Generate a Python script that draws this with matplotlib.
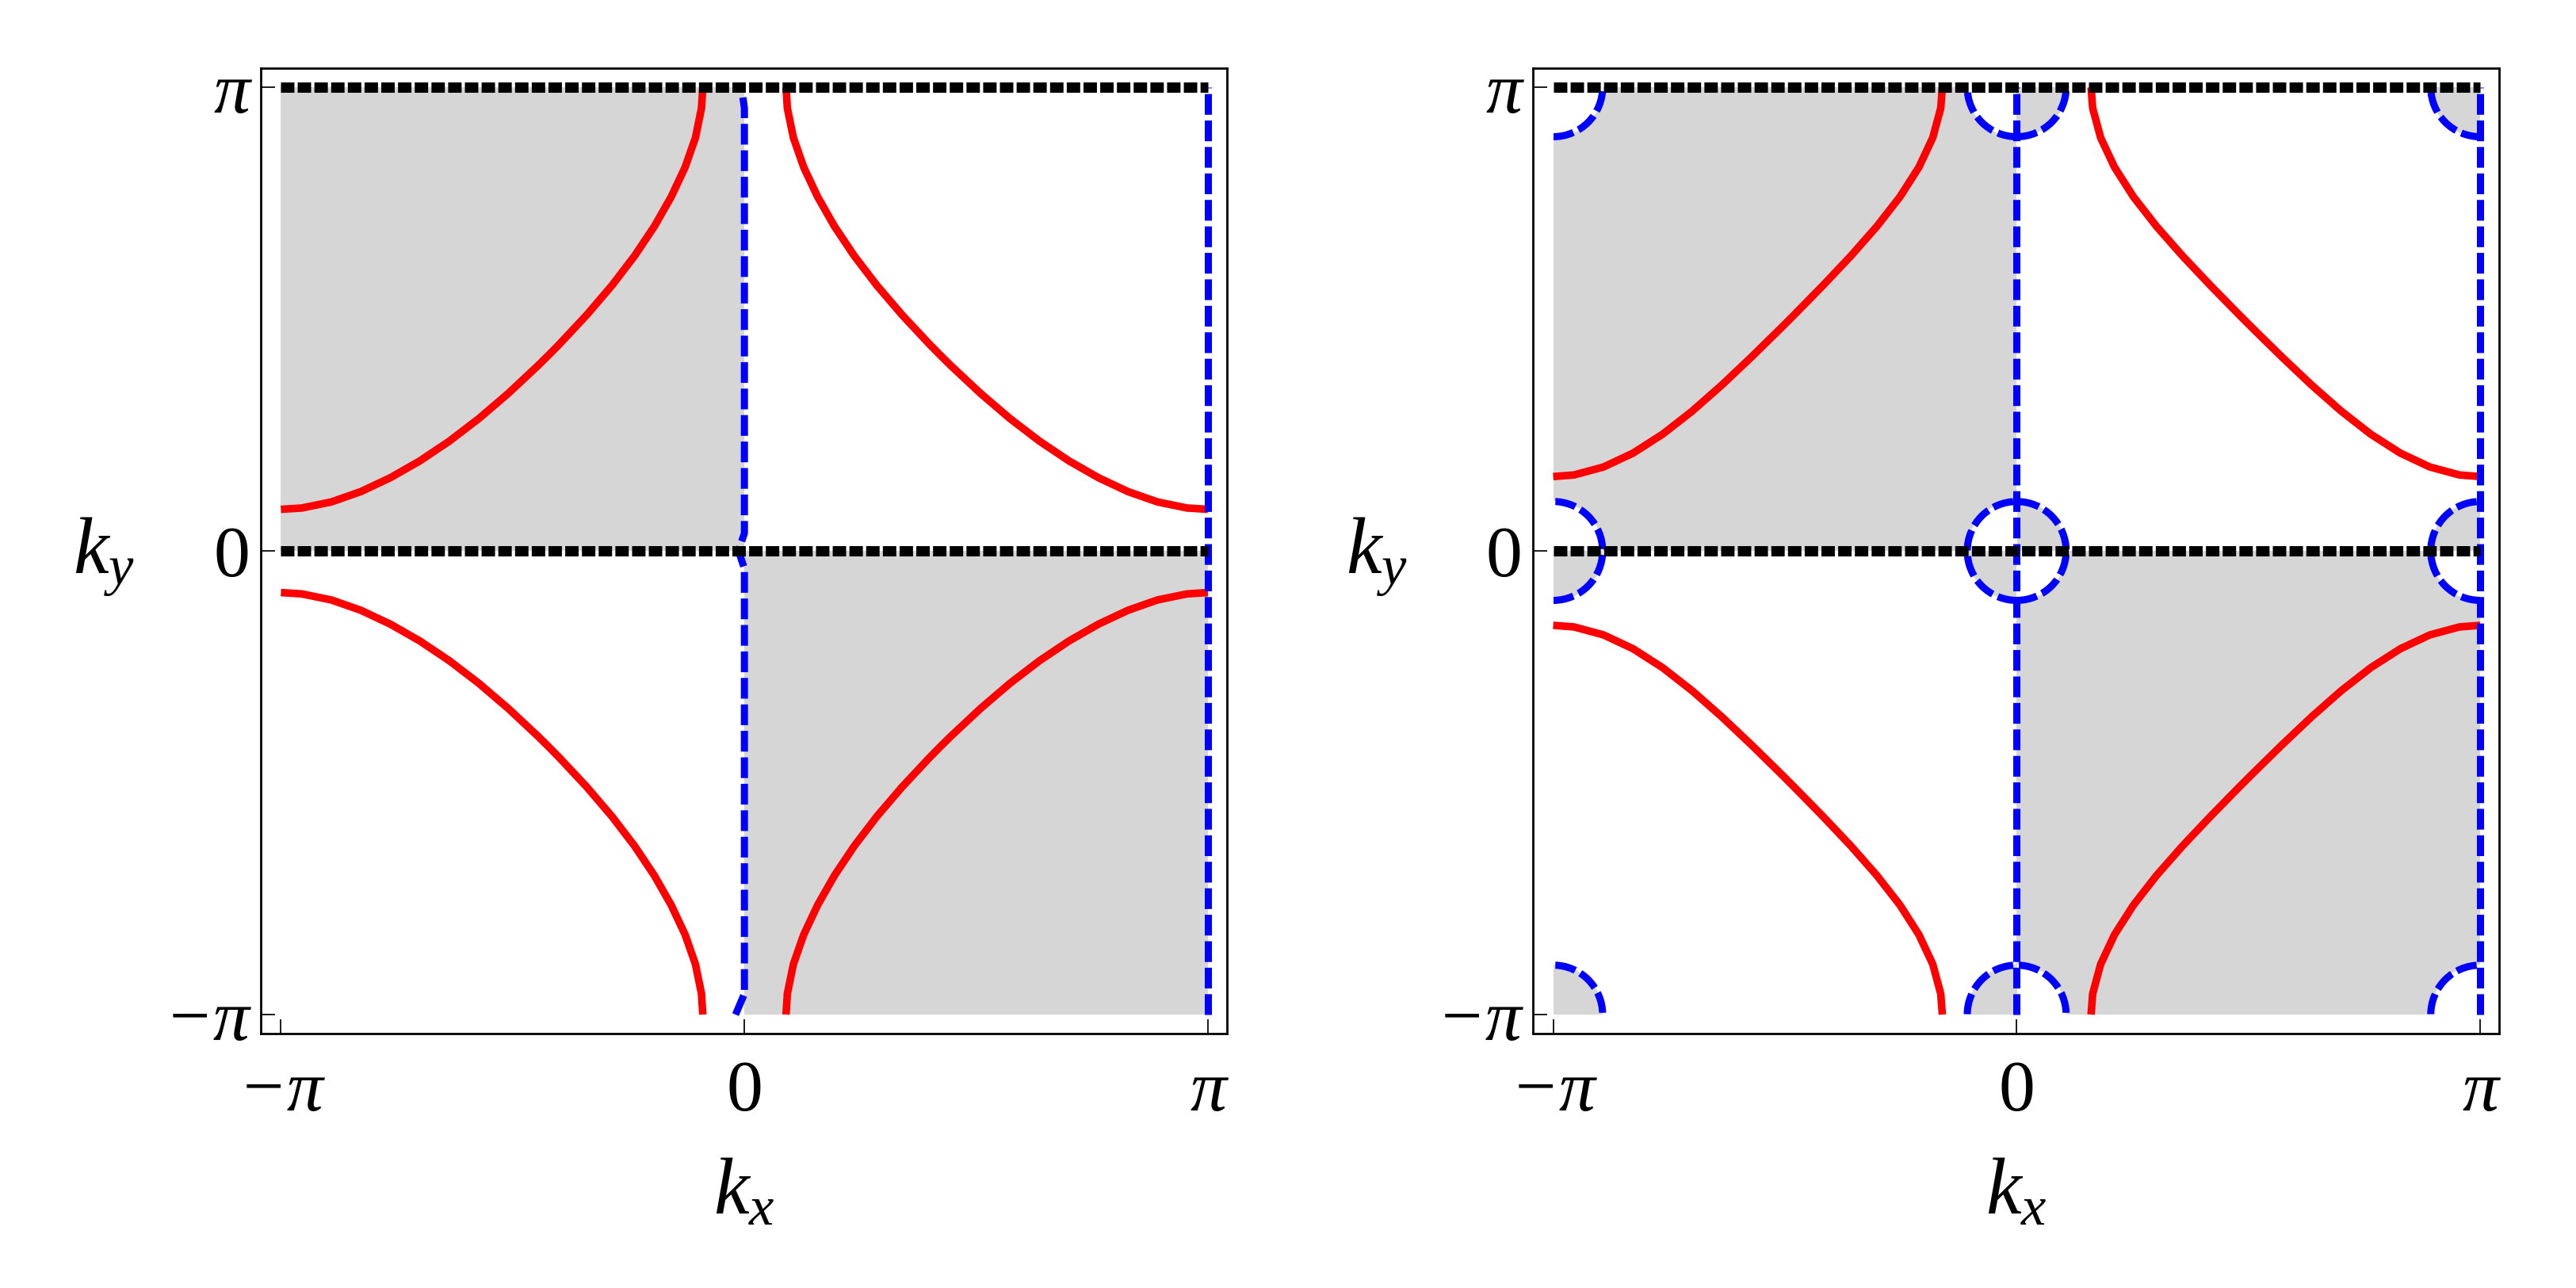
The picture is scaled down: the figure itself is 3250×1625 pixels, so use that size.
import numpy as np
import matplotlib
matplotlib.use("Agg")
import matplotlib.pyplot as plt
from matplotlib.patches import Rectangle, Wedge, Circle

plt.rcParams['mathtext.fontset'] = 'custom'
plt.rcParams['mathtext.rm'] = 'Liberation Serif'
plt.rcParams['mathtext.it'] = 'Liberation Serif:italic'
plt.rcParams['font.family'] = ['Liberation Serif', 'DejaVu Serif']

PI = np.pi

# ---------------- data ----------------
tick_vals = [-PI, 0.0, PI]
tick_labels = ['\u2212\u03c0', '0', '\u03c0']
tick_styles = ['italic', 'normal', 'italic']
x_label = r'$k_x$'
y_label = r'$k_y$'

# black dotted lines (ky values)
black_ky = [0.0, PI]

# ---- left panel: red curves (kx, ky) ----
L_tl_x = [-PI, -3.0, -2.8, -2.6, -2.4, -2.2, -2.0, -1.8, -1.6, -1.4, -1.327,
          -1.255, -1.068, -0.897, -0.744, -0.610, -0.496, -0.402, -0.332, -0.291, -0.282]
L_tl_y = [0.282, 0.291, 0.332, 0.402, 0.496, 0.610, 0.744, 0.897, 1.068, 1.255, 1.327,
          1.4, 1.6, 1.8, 2.0, 2.2, 2.4, 2.6, 2.8, 3.0, PI]
L_tr_x = [PI, 3.0, 2.8, 2.6, 2.4, 2.2, 2.0, 1.8, 1.6, 1.4, 1.327,
          1.255, 1.068, 0.897, 0.744, 0.610, 0.496, 0.402, 0.332, 0.291, 0.282]
L_tr_y = [0.282, 0.291, 0.332, 0.402, 0.496, 0.610, 0.744, 0.897, 1.068, 1.255, 1.327,
          1.4, 1.6, 1.8, 2.0, 2.2, 2.4, 2.6, 2.8, 3.0, PI]
L_bl_x = [-PI, -3.0, -2.8, -2.6, -2.4, -2.2, -2.0, -1.8, -1.6, -1.4, -1.327,
          -1.255, -1.068, -0.897, -0.744, -0.610, -0.496, -0.402, -0.332, -0.291, -0.282]
L_bl_y = [-0.282, -0.291, -0.332, -0.402, -0.496, -0.610, -0.744, -0.897, -1.068, -1.255, -1.327,
          -1.4, -1.6, -1.8, -2.0, -2.2, -2.4, -2.6, -2.8, -3.0, -PI]
L_br_x = [PI, 3.0, 2.8, 2.6, 2.4, 2.2, 2.0, 1.8, 1.6, 1.4, 1.327,
          1.255, 1.068, 0.897, 0.744, 0.610, 0.496, 0.402, 0.332, 0.291, 0.282]
L_br_y = [-0.282, -0.291, -0.332, -0.402, -0.496, -0.610, -0.744, -0.897, -1.068, -1.255, -1.327,
          -1.4, -1.6, -1.8, -2.0, -2.2, -2.4, -2.6, -2.8, -3.0, -PI]
# left panel: blue dashed lines
L_blue0_x = [-0.06, 0.0, 0.0, -0.04, 0.0, 0.0, -0.02]
L_blue0_y = [-PI, -3.0, -0.12, 0.0, 0.12, 3.0, PI]
L_bluepi_x = [PI, PI]
L_bluepi_y = [-PI, PI]

# ---- right panel: red curves (kx, ky) ----
R_tl_x = [-PI, -3.0, -2.8, -2.6, -2.4, -2.2, -2.0, -1.8, -1.6, -1.554,
          -1.508, -1.312, -1.123, -0.947, -0.791, -0.663, -0.569, -0.515, -0.504]
R_tl_y = [0.504, 0.515, 0.569, 0.663, 0.791, 0.947, 1.123, 1.312, 1.508, 1.554,
          1.6, 1.8, 2.0, 2.2, 2.4, 2.6, 2.8, 3.0, PI]
R_tr_x = [PI, 3.0, 2.8, 2.6, 2.4, 2.2, 2.0, 1.8, 1.6, 1.554,
          1.508, 1.312, 1.123, 0.947, 0.791, 0.663, 0.569, 0.515, 0.504]
R_tr_y = [0.504, 0.515, 0.569, 0.663, 0.791, 0.947, 1.123, 1.312, 1.508, 1.554,
          1.6, 1.8, 2.0, 2.2, 2.4, 2.6, 2.8, 3.0, PI]
R_bl_x = [-PI, -3.0, -2.8, -2.6, -2.4, -2.2, -2.0, -1.8, -1.6, -1.554,
          -1.508, -1.312, -1.123, -0.947, -0.791, -0.663, -0.569, -0.515, -0.504]
R_bl_y = [-0.504, -0.515, -0.569, -0.663, -0.791, -0.947, -1.123, -1.312, -1.508, -1.554,
          -1.6, -1.8, -2.0, -2.2, -2.4, -2.6, -2.8, -3.0, -PI]
R_br_x = [PI, 3.0, 2.8, 2.6, 2.4, 2.2, 2.0, 1.8, 1.6, 1.554,
          1.508, 1.312, 1.123, 0.947, 0.791, 0.663, 0.569, 0.515, 0.504]
R_br_y = [-0.504, -0.515, -0.569, -0.663, -0.791, -0.947, -1.123, -1.312, -1.508, -1.554,
          -1.6, -1.8, -2.0, -2.2, -2.4, -2.6, -2.8, -3.0, -PI]
# right panel: blue dashed lines and circles
R_blue0_x = [0.0, 0.0]
R_blue0_y = [-PI, PI]
R_bluepi_x = [PI, PI]
R_bluepi_y = [-PI, PI]
R_circle_cx = [-PI, 0.0, PI, -PI, 0.0, PI, -PI, 0.0, PI]
R_circle_cy = [-PI, -PI, -PI, 0.0, 0.0, 0.0, PI, PI, PI]
R_radius = 0.335

# ---------------- style ----------------
GRAY = '#d6d6d6'
RED = '#ff0000'
BLUE = '#0000ff'
RED_LW = 2.75
BLUE_LW = 2.6
BLACK_LW = 3.75
BLUE_DASH = (0, (2.9, 0.8))
BLACK_DASH = (0, (1.3, 0.32))

fig = plt.figure(figsize=(13, 6.5), dpi=250)
axL = fig.add_axes([0.1012, 0.1975, 0.3751, 0.7495])
axR = fig.add_axes([0.5951, 0.1975, 0.3751, 0.7495])


def shade(ax, cxs, cys, r):
    clip = Rectangle((-PI, -PI), 2 * PI, 2 * PI, transform=ax.transData)
    for (x0, y0) in [(-PI, 0.0), (0.0, -PI)]:
        ax.add_patch(Rectangle((x0, y0), PI, PI, facecolor=GRAY,
                               edgecolor='none', zorder=1))
    for cx, cy in zip(cxs, cys):
        for k in range(4):
            t1 = 90 * k
            ang = np.deg2rad(t1 + 45)
            px = cx + 0.5 * r * np.cos(ang)
            py = cy + 0.5 * r * np.sin(ang)
            outside_gray = px * py < 0
            col = 'white' if outside_gray else GRAY
            w = Wedge((cx, cy), r, t1, t1 + 90, facecolor=col,
                      edgecolor='none', zorder=1.1, antialiased=False)
            ax.add_patch(w)
            w.set_clip_path(clip)
        c = Circle((cx, cy), r, fill=False, edgecolor=BLUE, lw=BLUE_LW,
                   linestyle=BLUE_DASH, zorder=3)
        ax.add_patch(c)
        c.set_clip_path(clip)


def decorate(ax):
    ax.set_xlim(-PI - 0.137, PI + 0.129)
    ax.set_ylim(-PI - 0.129, PI + 0.129)
    ax.set_xticks(tick_vals)
    ax.set_xticklabels(tick_labels)
    ax.set_yticks(tick_vals)
    ax.set_yticklabels(tick_labels)
    ax.tick_params(direction='in', length=5.2, width=0.5, labelsize=26.4,
                   top=False, right=False, colors='black')
    ax.tick_params(axis='x', pad=9.6)
    ax.tick_params(axis='y', pad=4.0)
    for lab, st in zip(ax.get_xticklabels(), tick_styles):
        lab.set_fontstyle(st)
    for lab, st in zip(ax.get_yticklabels(), tick_styles):
        lab.set_fontstyle(st)
    for s in ax.spines.values():
        s.set_linewidth(0.8)
    ax.set_xlabel(x_label, fontsize=29)
    ax.xaxis.set_label_coords(0.5, -0.1675)
    ax.xaxis.label.set_va('center')
    ax.set_ylabel(y_label, fontsize=29, rotation=0)
    ax.yaxis.set_label_coords(-0.162, 0.494)
    ax.yaxis.label.set_va('center')
    ax.yaxis.label.set_ha('center')


def draw_panel(ax, reds, blues, cxs, cys, r):
    shade(ax, cxs, cys, r)
    for xs, ys in reds:
        ax.plot(xs, ys, color=RED, lw=RED_LW, zorder=2,
                solid_capstyle='butt', solid_joinstyle='round')
    for xs, ys in blues:
        ax.plot(xs, ys, color=BLUE, lw=BLUE_LW, linestyle=BLUE_DASH,
                zorder=3, dash_capstyle='butt')
    for ky in black_ky:
        ax.plot([-PI, PI], [ky, ky], color='black', lw=BLACK_LW,
                linestyle=BLACK_DASH, zorder=4, dash_capstyle='butt')
    decorate(ax)


draw_panel(axL,
           [(L_tl_x, L_tl_y), (L_tr_x, L_tr_y), (L_bl_x, L_bl_y), (L_br_x, L_br_y)],
           [(L_blue0_x, L_blue0_y), (L_bluepi_x, L_bluepi_y)],
           [], [], 0.0)
draw_panel(axR,
           [(R_tl_x, R_tl_y), (R_tr_x, R_tr_y), (R_bl_x, R_bl_y), (R_br_x, R_br_y)],
           [(R_blue0_x, R_blue0_y), (R_bluepi_x, R_bluepi_y)],
           R_circle_cx, R_circle_cy, R_radius)

fig.savefig('out.png', dpi=250, facecolor='white')
